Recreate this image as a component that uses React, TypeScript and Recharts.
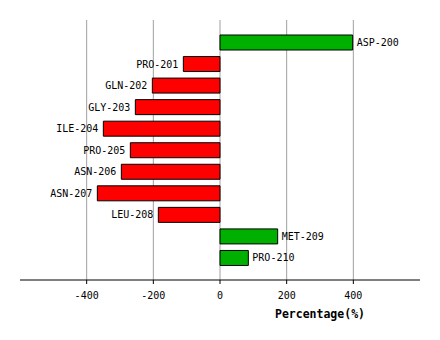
import { BarChart, Bar, XAxis, YAxis, CartesianGrid, Cell, LabelList } from 'recharts';

const residues = ['ASP-200', 'PRO-201', 'GLN-202', 'GLY-203', 'ILE-204', 'PRO-205', 'ASN-206', 'ASN-207', 'LEU-208', 'MET-209', 'PRO-210'];
const percentages = [398, -110, -203, -254, -350, -269, -296, -368, -185, 173, 85];
const xTicks = [-400, -200, 0, 200, 400];

const data = residues.map((name, i) => ({ name, value: percentages[i] }));

const FONT = '"DejaVu Sans Mono", monospace';

function BarLabel(props: any) {
    const { x, y, width, height, value, index } = props;
    const left = Math.min(x, x + width);
    const right = Math.max(x, x + width);
    const neg = value < 0;
    return (
        <text
            x={neg ? left - 5 : right + 4}
            y={y + height / 2}
            dy="0.35em"
            textAnchor={neg ? 'end' : 'start'}
            fontFamily={FONT}
            fontSize={10}
            fill="#000"
        >
            {residues[index]}
        </text>
    );
}

export default function App() {
    return (
        <div style={{ position: 'absolute', left: 0, top: 0 }}>
            <BarChart
                width={440}
                height={340}
                data={data}
                layout="vertical"
                margin={{ top: 20, right: 20, bottom: 0, left: 20 }}
            >
                <CartesianGrid horizontal={false} syncWithTicks stroke="#a0a0a0" />
                <XAxis
                    type="number"
                    domain={[-600, 600]}
                    ticks={xTicks}
                    height={60}
                    stroke="#000"
                    tickSize={4}
                    tickMargin={8}
                    tick={{ fontFamily: FONT, fontSize: 10, fill: '#000' }}
                    label={({ viewBox }: any) => (
                        <text
                            x={viewBox.x + viewBox.width * 0.75}
                            y={viewBox.y + 38}
                            textAnchor="middle"
                            fontFamily={FONT}
                            fontSize={11.5}
                            fontWeight="bold"
                            fill="#000"
                        >
                            Percentage(%)
                        </text>
                    )}
                />
                <YAxis type="category" dataKey="name" hide padding={{ top: 12, bottom: 11 }} />
                <Bar dataKey="value" barSize={15} stroke="#000" strokeWidth={1} isAnimationActive={false}>
                    {data.map((d) => (
                        <Cell key={d.name} fill={d.value >= 0 ? '#00b000' : '#ff0000'} />
                    ))}
                    <LabelList dataKey="value" content={BarLabel} />
                </Bar>
            </BarChart>
        </div>
    );
}
